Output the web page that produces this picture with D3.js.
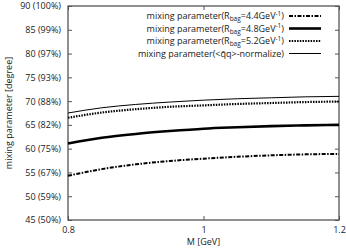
<html lang="en">
<head>
<meta charset="UTF-8">
<title>mixing parameter</title>
<style>
  body { margin: 0; background: #fff; }
  text { font-family: 'Open Sans', sans-serif; fill: #222; }
</style>
</head>
<body>
<div id="chart"></div>
<script src="https://d3js.org/d3.v7.min.js"></script>
<script>
// data
const mass = [0.8, 0.85, 0.9, 0.95, 1.0, 1.05, 1.1, 1.15, 1.2];
const rbag44 = [54.3, 55.7, 56.7, 57.4, 57.9, 58.3, 58.6, 58.8, 58.9];
const rbag48 = [61.1, 62.3, 63.1, 63.7, 64.2, 64.5, 64.75, 64.9, 65.0];
const rbag52 = [66.5, 67.6, 68.3, 68.8, 69.1, 69.4, 69.6, 69.8, 69.9];
const qqNorm = [67.5, 68.6, 69.3, 69.8, 70.2, 70.5, 70.7, 70.9, 71.0];
const yTicks = [45, 50, 55, 60, 65, 70, 75, 80, 85, 90];
const yPct = ["50%", "59%", "67%", "75%", "82%", "88%", "93%", "97%", "99%", "100%"];
const xTicks = [0.8, 1, 1.2];

const W = 346, H = 251;
const margin = {top: 6, right: 7, bottom: 31, left: 68};
const width = W - margin.left - margin.right,
      height = H - margin.top - margin.bottom;

const svg = d3.select("#chart").append("svg")
  .attr("width", W).attr("height", H);
const g = svg.append("g")
  .attr("transform", `translate(${margin.left},${margin.top})`);

const x = d3.scaleLinear().domain([0.8, 1.2]).range([0, width]);
const y = d3.scaleLinear().domain([45, 90]).range([height, 0]);

// axes, ticks pointing inward and mirrored
const frameCol = "#555";
g.append("g").attr("transform", `translate(0,${height})`)
  .call(d3.axisBottom(x).tickValues(xTicks).tickSize(-4).tickPadding(7)
    .tickFormat(d => d === 1 ? "1" : d3.format(".1f")(d)))
  .call(a => a.select(".domain").remove());
g.append("g")
  .call(d3.axisTop(x).tickValues(xTicks).tickSize(-4).tickFormat(""))
  .call(a => a.select(".domain").remove());
g.append("g")
  .call(d3.axisLeft(y).tickValues(yTicks).tickSize(-4).tickPadding(7)
    .tickFormat((d, i) => `${d} (${yPct[i]})`))
  .call(a => a.select(".domain").remove());
g.append("g").attr("transform", `translate(${width},0)`)
  .call(d3.axisRight(y).tickValues(yTicks).tickSize(-4).tickFormat(""))
  .call(a => a.select(".domain").remove());
g.selectAll(".tick line").attr("stroke", frameCol);
g.selectAll(".tick text").attr("font-size", 9).attr("fill", "#222")
  .attr("font-family", "'Open Sans', sans-serif");

g.append("rect").attr("width", width).attr("height", height)
  .attr("fill", "none").attr("stroke", frameCol).attr("stroke-width", 1.3);

const series = [
  {vals: rbag44, w: 2, dash: "4,1.5,1.5,1.5", label: "4.4"},
  {vals: rbag48, w: 2.6, dash: null, label: "4.8"},
  {vals: rbag52, w: 2.2, dash: "1.5,1.2", label: "5.2"},
  {vals: qqNorm, w: 1, dash: null, label: null}
];

const line = d3.line().x((d, i) => x(mass[i])).y(d => y(d)).curve(d3.curveMonotoneX);

series.forEach(s => {
  g.append("path").datum(s.vals)
    .attr("fill", "none").attr("stroke", "#000")
    .attr("stroke-width", s.w)
    .attr("stroke-dasharray", s.dash)
    .attr("d", line);
});

// legend
const leg = svg.append("g");
series.forEach((s, i) => {
  const ly = 16 + i * 12.5;
  const t = leg.append("text").attr("x", 284).attr("y", ly + 3)
    .attr("text-anchor", "end").attr("font-size", 9);
  if (s.label) {
    t.append("tspan").text("mixing parameter(R");
    t.append("tspan").attr("font-size", 6.5).attr("dy", 2).text("bag");
    t.append("tspan").attr("dy", -2).text(`=${s.label}GeV`);
    t.append("tspan").attr("font-size", 6.5).attr("dy", -3.5).text("-1");
    t.append("tspan").attr("dy", 3.5).text(")");
  } else {
    t.text("mixing parameter(<q\u0304q>-normalize)");
  }
  leg.append("line").attr("x1", 289).attr("x2", 321)
    .attr("y1", ly).attr("y2", ly)
    .attr("stroke", "#000").attr("stroke-width", s.w)
    .attr("stroke-dasharray", s.dash);
});

// axis titles
svg.append("text").attr("x", margin.left + width / 2).attr("y", 245)
  .attr("text-anchor", "middle").attr("font-size", 9).text("M [GeV]");
svg.append("text")
  .attr("transform", `translate(12,${margin.top + height / 2}) rotate(-90)`)
  .attr("text-anchor", "middle").attr("font-size", 9)
  .text("mixing parameter [degree]");
</script>
</body>
</html>
